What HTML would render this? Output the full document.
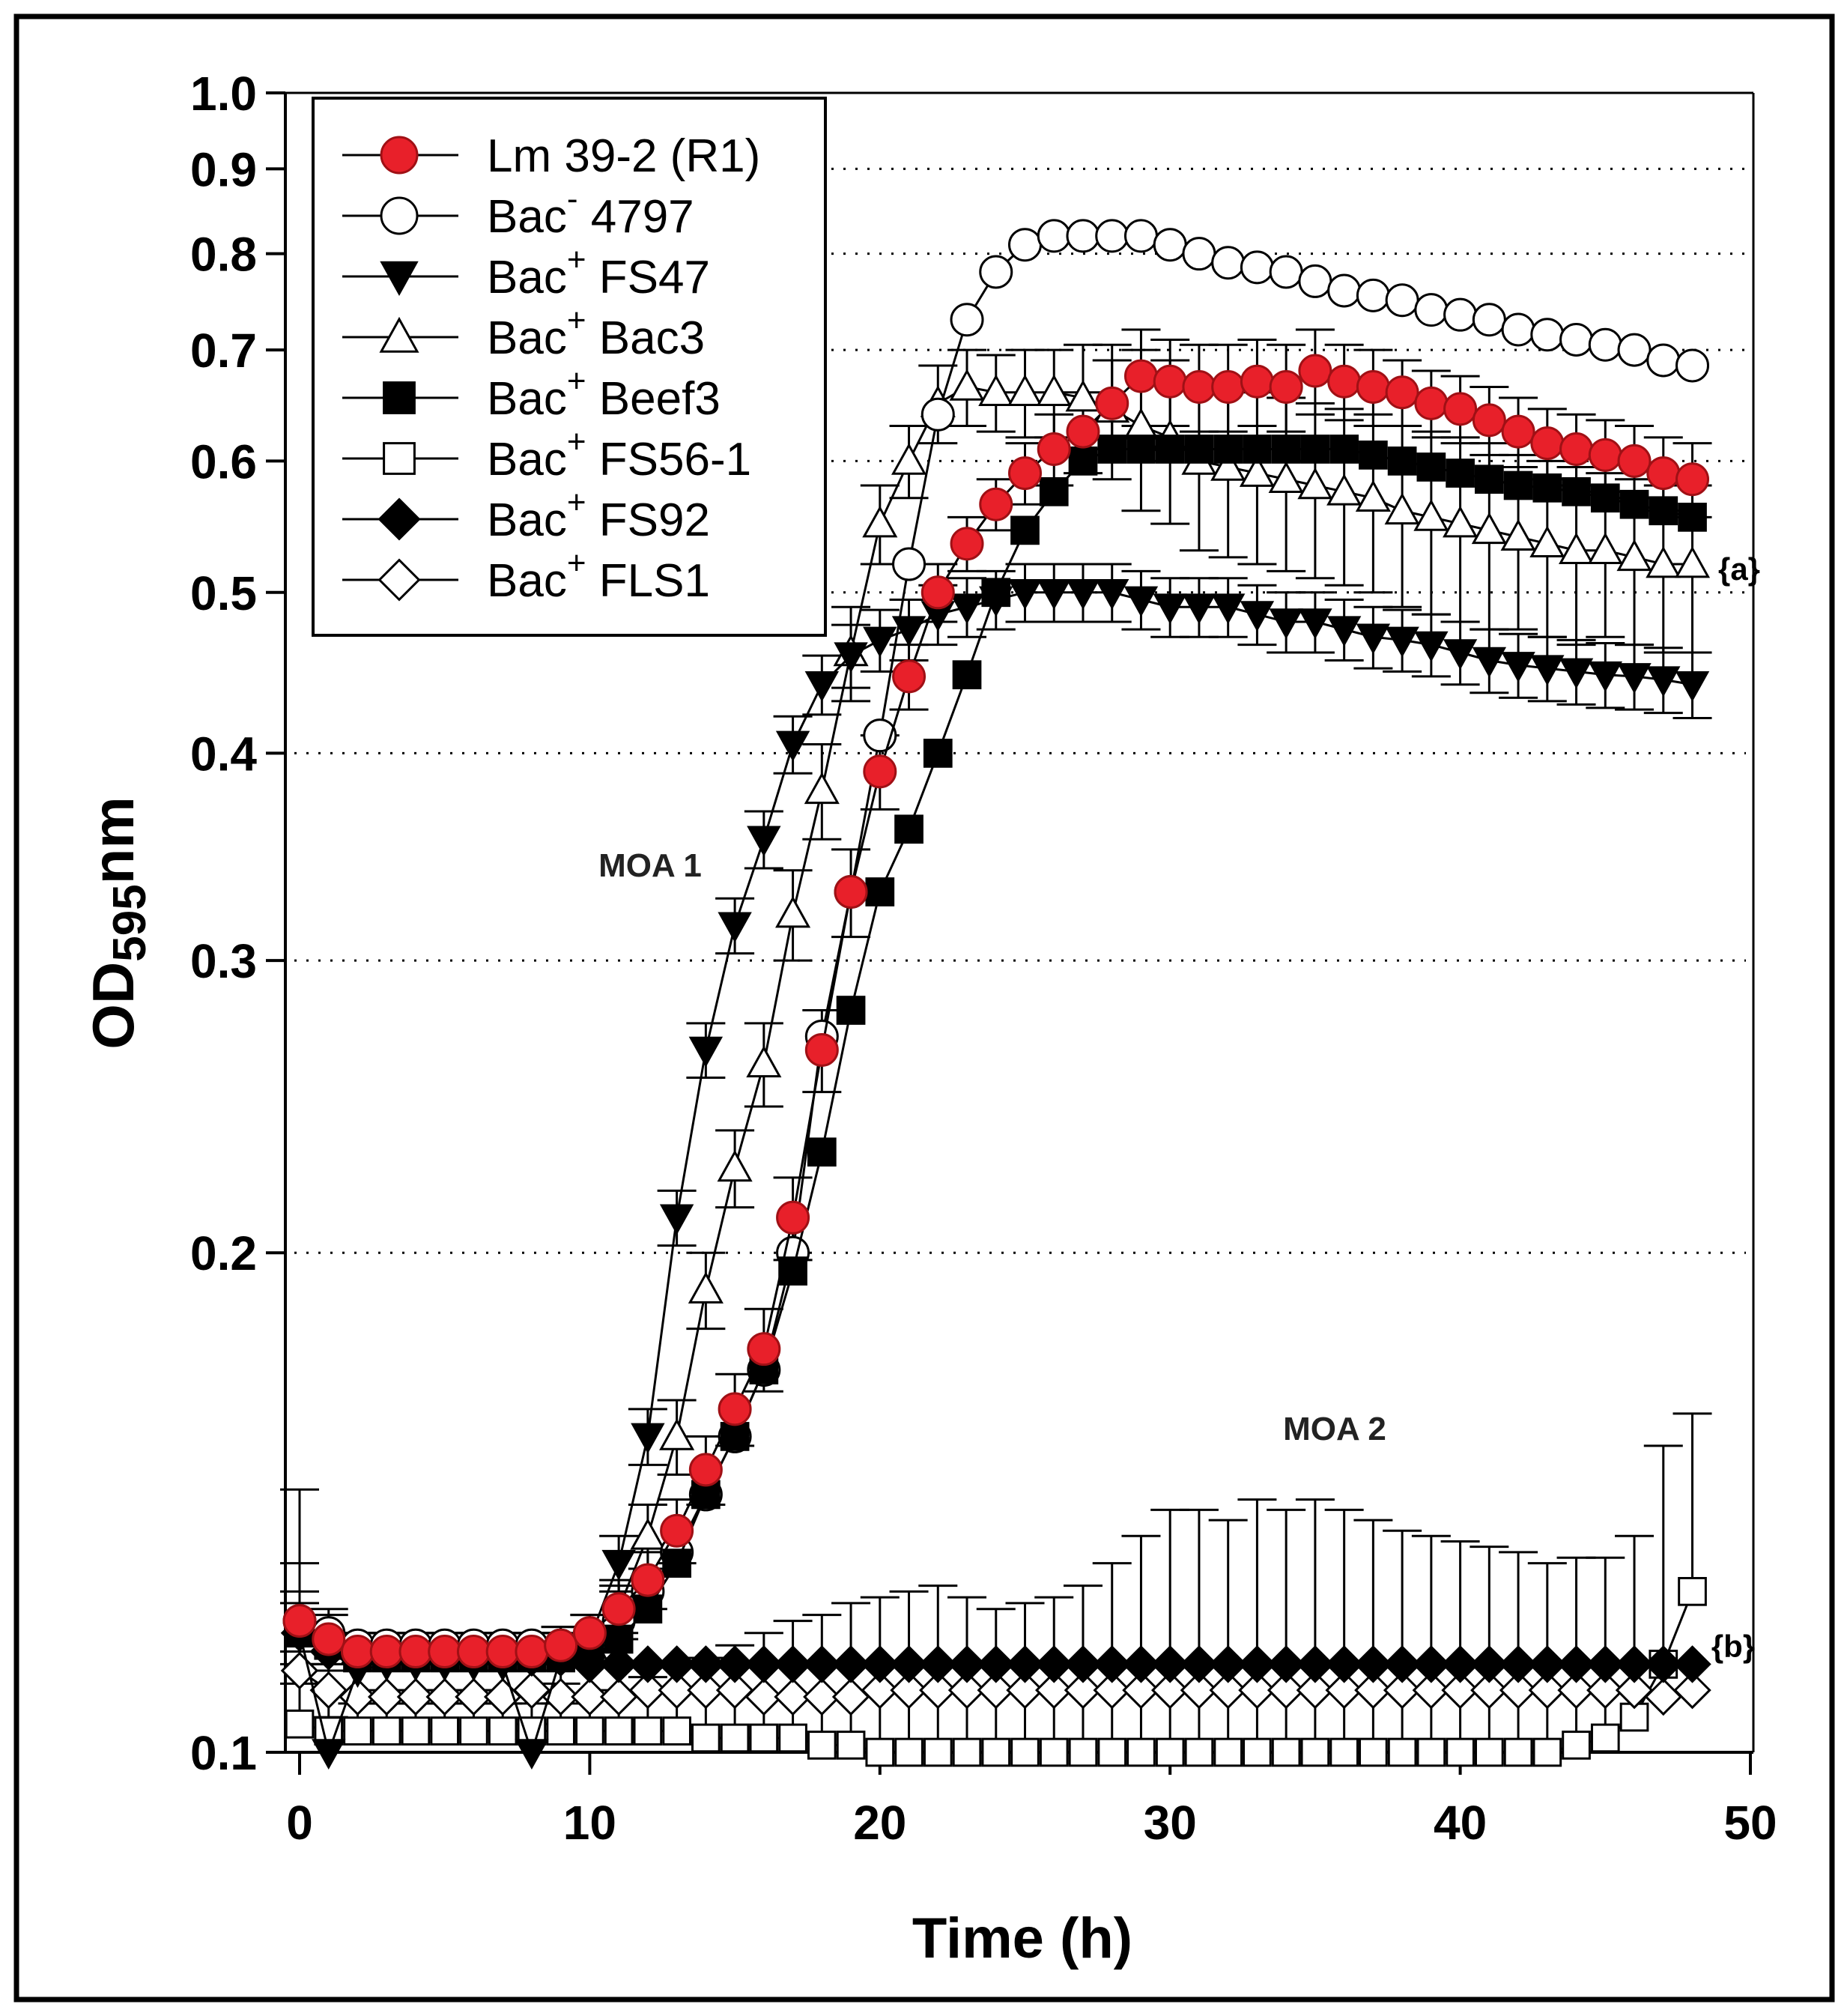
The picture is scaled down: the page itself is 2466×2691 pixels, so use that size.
<!DOCTYPE html>
<html><head><meta charset="utf-8"><style>
html,body{margin:0;padding:0;background:#fff}
svg{display:block}
</style></head><body>
<svg id="chart" width="2466" height="2691" viewBox="0 0 2466 2691" xmlns="http://www.w3.org/2000/svg" font-family="Liberation Sans, Arial, sans-serif">
<rect x="22" y="22" width="2424" height="2647" fill="#fff" stroke="#000" stroke-width="7"/>
<g id="grid"></g>
<g id="axes"></g>
<g id="series"></g>
<g id="legend"></g>
<text x="1365" y="2613" font-size="76" font-weight="bold" text-anchor="middle">Time (h)</text>
<text transform="translate(178,1232) rotate(-90)" font-size="78" font-weight="bold" text-anchor="middle">OD<tspan font-size="62" dy="16">595</tspan><tspan dy="-16">nm</tspan></text>
<text x="868" y="1170" font-size="44" font-weight="bold" text-anchor="middle" fill="#222">MOA 1</text>
<text x="1782" y="1922" font-size="44" font-weight="bold" text-anchor="middle" fill="#222">MOA 2</text>
<text x="2322" y="774" font-size="42" font-weight="bold" text-anchor="middle">{a}</text>
<text x="2314" y="2212" font-size="42" font-weight="bold" text-anchor="middle">{b}</text>
</svg>
<script>
const times = [0,1,2,3,4,5,6,7,8,9,10,11,12,13,14,15,16,17,18,19,20,21,22,23,24,25,26,27,28,29,30,31,32,33,34,35,36,37,38,39,40,41,42,43,44,45,46,47,48];
const lm392 = [0.12,0.117,0.115,0.115,0.115,0.115,0.115,0.115,0.115,0.116,0.118,0.122,0.127,0.136,0.148,0.161,0.175,0.21,0.265,0.33,0.39,0.445,0.5,0.535,0.565,0.59,0.61,0.625,0.65,0.675,0.67,0.665,0.665,0.67,0.665,0.68,0.67,0.665,0.66,0.65,0.645,0.635,0.625,0.615,0.61,0.605,0.6,0.59,0.585];
const bacm4797 = [0.12,0.118,0.116,0.116,0.116,0.116,0.116,0.116,0.116,0.116,0.116,0.12,0.125,0.132,0.143,0.155,0.17,0.2,0.27,0.33,0.41,0.52,0.64,0.73,0.78,0.81,0.82,0.82,0.82,0.82,0.81,0.80,0.79,0.785,0.78,0.77,0.76,0.755,0.75,0.74,0.735,0.73,0.72,0.715,0.71,0.705,0.70,0.69,0.685];
const fs47 = [0.118,0.1,0.112,0.113,0.113,0.113,0.113,0.113,0.1,0.114,0.117,0.13,0.155,0.21,0.265,0.315,0.355,0.405,0.44,0.458,0.468,0.475,0.485,0.49,0.495,0.5,0.5,0.5,0.5,0.495,0.49,0.49,0.49,0.485,0.48,0.48,0.475,0.47,0.468,0.465,0.46,0.455,0.452,0.45,0.448,0.446,0.445,0.443,0.44];
const fs47Err = [0.005,0.005,0.004,0.004,0.004,0.004,0.004,0.004,0.004,0.004,0.004,0.005,0.006,0.008,0.01,0.012,0.014,0.016,0.018,0.02,0.02,0.02,0.02,0.02,0.02,0.02,0.02,0.02,0.02,0.02,0.02,0.02,0.02,0.02,0.02,0.02,0.02,0.02,0.02,0.02,0.02,0.02,0.02,0.02,0.02,0.02,0.02,0.02,0.02];
const lmErr = [0.005,0.004,0.003,0.003,0.003,0.003,0.003,0.003,0.003,0.003,0.003,0.004,0.005,0.006,0.007,0.008,0.01,0.012,0.015,0.02,0.02,0.02,0.02,0.02,0.02,0.025,0.03,0.035,0.04,0.045,0.04,0.04,0.04,0.04,0.04,0.04,0.035,0.035,0.03,0.03,0.03,0.03,0.03,0.03,0.03,0.03,0.03,0.03,0.03];
const bac3 = [0.12,0.117,0.115,0.115,0.115,0.115,0.115,0.115,0.115,0.116,0.116,0.122,0.135,0.155,0.19,0.225,0.26,0.32,0.38,0.46,0.55,0.6,0.65,0.665,0.66,0.66,0.66,0.655,0.645,0.63,0.62,0.6,0.595,0.59,0.585,0.58,0.575,0.57,0.56,0.555,0.55,0.545,0.54,0.535,0.53,0.53,0.525,0.52,0.52];
const beef3 = [0.118,0.116,0.114,0.114,0.114,0.114,0.114,0.114,0.114,0.114,0.115,0.117,0.122,0.13,0.143,0.155,0.17,0.195,0.23,0.28,0.33,0.36,0.4,0.446,0.5,0.545,0.575,0.6,0.61,0.61,0.61,0.61,0.61,0.61,0.61,0.61,0.61,0.605,0.6,0.595,0.59,0.585,0.58,0.578,0.575,0.57,0.565,0.56,0.555];
const fs561 = [0.104,0.103,0.103,0.103,0.103,0.103,0.103,0.103,0.103,0.103,0.103,0.103,0.103,0.103,0.102,0.102,0.102,0.102,0.101,0.101,0.1,0.1,0.1,0.1,0.1,0.1,0.1,0.1,0.1,0.1,0.1,0.1,0.1,0.1,0.1,0.1,0.1,0.1,0.1,0.1,0.1,0.1,0.1,0.1,0.101,0.102,0.105,0.113,0.125];
const fs561Err = [0.04,0.01,0.004,0.004,0.004,0.004,0.004,0.004,0.004,0.004,0.005,0.006,0.008,0.01,0.012,0.014,0.016,0.018,0.02,0.022,0.024,0.025,0.026,0.024,0.022,0.023,0.024,0.026,0.03,0.035,0.04,0.04,0.038,0.042,0.04,0.042,0.04,0.038,0.036,0.035,0.034,0.033,0.032,0.03,0.03,0.029,0.03,0.04,0.035];
const fs92 = [0.118,0.115,0.114,0.114,0.114,0.114,0.114,0.114,0.114,0.114,0.113,0.113,0.113,0.113,0.113,0.113,0.113,0.113,0.113,0.113,0.113,0.113,0.113,0.113,0.113,0.113,0.113,0.113,0.113,0.113,0.113,0.113,0.113,0.113,0.113,0.113,0.113,0.113,0.113,0.113,0.113,0.113,0.113,0.113,0.113,0.113,0.113,0.113,0.113];
const fls1 = [0.112,0.109,0.108,0.108,0.108,0.108,0.108,0.108,0.109,0.108,0.108,0.108,0.109,0.109,0.109,0.109,0.108,0.108,0.108,0.108,0.109,0.109,0.109,0.109,0.109,0.109,0.109,0.109,0.109,0.109,0.109,0.109,0.109,0.109,0.109,0.109,0.109,0.109,0.109,0.109,0.109,0.109,0.109,0.109,0.109,0.109,0.109,0.108,0.109];
const bac3Err = [0.01,0.005,0.003,0.003,0.003,0.003,0.003,0.003,0.003,0.003,0.003,0.005,0.006,0.008,0.01,0.012,0.015,0.02,0.025,0.03,0.03,0.03,0.035,0.035,0.035,0.04,0.04,0.05,0.06,0.07,0.07,0.07,0.07,0.07,0.07,0.07,0.07,0.07,0.07,0.07,0.07,0.07,0.065,0.065,0.065,0.06,0.06,0.06,0.06];
const xTicks = [0,10,20,30,40,50];
const yTicks = [0.1,0.2,0.3,0.4,0.5,0.6,0.7,0.8,0.9,1.0];
const yTickLabels = ["0.1","0.2","0.3","0.4","0.5","0.6","0.7","0.8","0.9","1.0"];
const legendLabels = [["Lm 39-2 (R1)",""],["Bac","- 4797"],["Bac","+ FS47"],["Bac","+ Bac3"],["Bac","+ Beef3"],["Bac","+ FS56-1"],["Bac","+ FS92"],["Bac","+ FLS1"]];

const NS="http://www.w3.org/2000/svg";
const X0=400, X1=2337, Y0=2339, Y1=124;
const L=381, R=2341;
function xs(t){return X0+(t-0)/(50-0)*(X1-X0);}
function ys(v){return Y0-(Math.log10(v)-Math.log10(0.1))/(Math.log10(1)-Math.log10(0.1))*(Y0-Y1);}
function mk(tag,attrs,parent){const e=document.createElementNS(NS,tag);for(const k in attrs)e.setAttribute(k,attrs[k]);parent.appendChild(e);return e;}

const grid=document.getElementById('grid'), axes=document.getElementById('axes'), ser=document.getElementById('series'), leg=document.getElementById('legend');
yTicks.forEach(v=>{
  if(v===0.1||v===1.0)return;
  const x0 = v>=0.5 ? 1110 : L+12;
  const g=mk('line',{x1:x0,x2:R-10,y1:ys(v),y2:ys(v),stroke:'#000','stroke-width':3,'stroke-dasharray':'3 13'},grid);
  
  
});
let a=mk('line',{x1:L,x2:L,y1:Y1,y2:Y0,stroke:'#000','stroke-width':4},axes);

a=mk('line',{x1:L,x2:R,y1:Y0,y2:Y0,stroke:'#000','stroke-width':4},axes);

a=mk('line',{x1:L,x2:R,y1:Y1,y2:Y1,stroke:'#000','stroke-width':3},axes);

a=mk('line',{x1:R,x2:R,y1:Y1,y2:Y0,stroke:'#000','stroke-width':3},axes);

xTicks.forEach(t=>{
  const l=mk('line',{x1:xs(t),x2:xs(t),y1:Y0,y2:Y0+30,stroke:'#000','stroke-width':4},axes);
  
  const tx=mk('text',{x:xs(t),y:Y0+116,'font-size':64,'font-weight':'bold','text-anchor':'middle'},axes);
  tx.textContent=String(t);
  
});
yTicks.forEach((v,i)=>{
  const l=mk('line',{x1:L-26,x2:L,y1:ys(v),y2:ys(v),stroke:'#000','stroke-width':4},axes);
  
  const tx=mk('text',{x:343,y:ys(v)+23,'font-size':64,'font-weight':'bold','text-anchor':'end'},axes);
  tx.textContent=yTickLabels[i];
  
});

function marker(type,cx,cy,parent,s){
  s=s||21;
  let e;
  if(type==='circle'||type==='circleRed') e=mk('circle',{cx:cx,cy:cy,r:s,fill:type==='circleRed'?'#e8202a':'#fff',stroke:type==='circleRed'?'#a01015':'#000','stroke-width':3},parent);
  else if(type==='tridown') e=mk('polygon',{points:`${cx-s},${cy-s*0.8} ${cx+s},${cy-s*0.8} ${cx},${cy+s}`,fill:'#000',stroke:'#000','stroke-width':2},parent);
  else if(type==='triup') e=mk('polygon',{points:`${cx-s},${cy+s*0.8} ${cx+s},${cy+s*0.8} ${cx},${cy-s}`,fill:'#fff',stroke:'#000','stroke-width':3},parent);
  else if(type==='sqfill'||type==='sqopen') e=mk('rect',{x:cx-s*0.85,y:cy-s*0.85,width:s*1.7,height:s*1.7,fill:type==='sqfill'?'#000':'#fff',stroke:'#000','stroke-width':3},parent);
  else if(type==='diafill'||type==='diaopen') e=mk('polygon',{points:`${cx},${cy-s*1.1} ${cx+s*1.1},${cy} ${cx},${cy+s*1.1} ${cx-s*1.1},${cy}`,fill:type==='diafill'?'#000':'#fff',stroke:'#000','stroke-width':3},parent);
  
  
  return e;
}
function errbars(vals,err,g,name,down){
  times.forEach((t,i)=>{
    const x=xs(t);
    const yt= down ? ys(Math.max(0.1,vals[i]-err[i])) : ys(vals[i]+err[i]);
    const yb= ys(vals[i]);
    const l=mk('line',{x1:x,x2:x,y1:yt,y2:yb,stroke:'#000','stroke-width':3},g);
    
    const c=mk('line',{x1:x-26,x2:x+26,y1:yt,y2:yt,stroke:'#000','stroke-width':3},g);
    
  });
}
function series(vals,type,name){
  const g=mk('g',{},ser);
  
  
  const p=mk('polyline',{points:times.map((t,i)=>xs(t)+','+ys(vals[i])).join(' '),fill:'none',stroke:'#000','stroke-width':3},g);
  
  times.forEach((t,i)=>marker(type,xs(t),ys(vals[i]),g));
}
const eg=mk('g',{},ser);


errbars(fs561,fs561Err,eg,'fs56-1',false);
errbars(bac3,bac3Err,eg,'bac3',false);
errbars(bac3,bac3Err,eg,'bac3',true);
errbars(fs47,fs47Err,eg,'fs47',false);
errbars(fs47,fs47Err,eg,'fs47',true);
errbars(lm392,lmErr,eg,'lm39-2',false);
errbars(lm392,lmErr,eg,'lm39-2',true);
series(fs561,'sqopen','fs56-1');
series(fls1,'diaopen','fls1');
series(fs92,'diafill','fs92');
series(bac3,'triup','bac3');
series(fs47,'tridown','fs47');
series(bacm4797,'circle','bac-4797');
series(beef3,'sqfill','beef3');
series(lm392,'circleRed','lm39-2');

const lb=mk('rect',{x:418,y:131,width:684,height:717,fill:'#fff',stroke:'#000','stroke-width':4},leg);

const types=['circleRed','circle','tridown','triup','sqfill','sqopen','diafill','diaopen'];
types.forEach((ty,i)=>{
  const y=207+i*81;
  const g=mk('g',{},leg);
  
  
  const l=mk('line',{x1:457,x2:612,y1:y,y2:y,stroke:'#000','stroke-width':3},g);
  
  marker(ty,533,y,g,24);
  const t=mk('text',{x:650,y:y+22,'font-size':62},g);
  
  const lab=legendLabels[i];
  if(lab[1]===''){t.textContent=lab[0];}
  else{
    t.appendChild(document.createTextNode(lab[0]));
    const sup=document.createElementNS(NS,'tspan');
    sup.setAttribute('font-size','44');sup.setAttribute('dy','-30');
    sup.textContent=lab[1].charAt(0);
    t.appendChild(sup);
    const rest=document.createElementNS(NS,'tspan');
    rest.setAttribute('dy','30');
    rest.textContent=lab[1].slice(1);
    t.appendChild(rest);
  }
});
</script>
</body></html>
